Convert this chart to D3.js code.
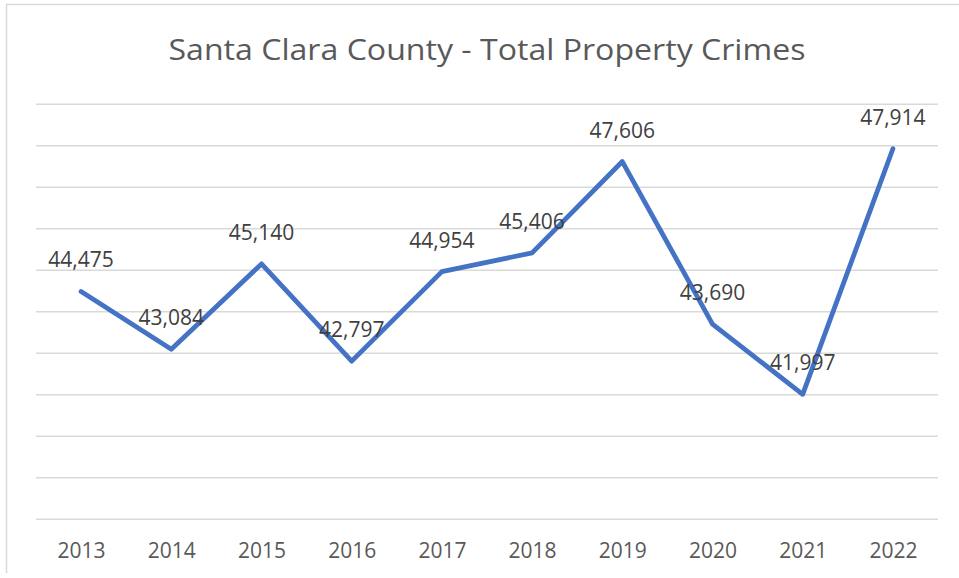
<!DOCTYPE html>
<html>
<head>
<meta charset="utf-8">
<script src="https://cdn.jsdelivr.net/npm/d3@7"></script>
<style>
  html, body { margin: 0; padding: 0; background: #fff; }
  svg { display: block; }
</style>
</head>
<body>
<svg id="chart" width="959" height="578"></svg>
<script>
const years = ["2013","2014","2015","2016","2017","2018","2019","2020","2021","2022"];
const crimes = [44475, 43084, 45140, 42797, 44954, 45406, 47606, 43690, 41997, 47914];
const yTicks = [39000, 40000, 41000, 42000, 43000, 44000, 45000, 46000, 47000, 48000, 49000];
const title = "Santa Clara County - Total Property Crimes";

const svg = d3.select("#chart");
const font = "'Open Sans', 'DejaVu Sans', sans-serif";

// frame
svg.append("line").attr("x1", 6.5).attr("x2", 6.5).attr("y1", 4).attr("y2", 573)
  .attr("stroke", "#d9d9d9").attr("stroke-width", 1.5);
svg.append("line").attr("x1", 6).attr("x2", 959).attr("y1", 4.5).attr("y2", 4.5)
  .attr("stroke", "#d9d9d9").attr("stroke-width", 1.5);

const x = d3.scalePoint().domain(years).range([36, 938]).padding(0.5);
const y = d3.scaleLinear().domain([39000, 49000]).range([518.7, 103.7]);

// gridlines
const grid = d3.axisLeft(y).tickValues(yTicks).tickSize(-(938 - 36)).tickFormat("");
const gg = svg.append("g").attr("transform", "translate(36,0)").call(grid);
gg.select(".domain").remove();
gg.selectAll(".tick line").attr("stroke", "#d9d9d9").attr("stroke-width", 1.5);

// x axis labels
const xa = d3.axisBottom(x).tickSize(0).tickPadding(0);
const xg = svg.append("g").attr("transform", "translate(0,518.7)").call(xa);
xg.select(".domain").remove();
xg.selectAll(".tick text")
  .attr("y", 39).attr("dy", null)
  .attr("font-family", font).attr("font-size", 21).attr("fill", "#595959");

// line
const line = d3.line().x((d, i) => x(years[i])).y(d => y(d));
svg.append("path").datum(crimes)
  .attr("d", line)
  .attr("fill", "none")
  .attr("stroke", "#4472C4")
  .attr("stroke-width", 4.8)
  .attr("stroke-linejoin", "round")
  .attr("stroke-linecap", "round");

// data labels
svg.append("g").selectAll("text").data(crimes).join("text")
  .attr("x", (d, i) => x(years[i]))
  .attr("y", d => y(d) - 24)
  .attr("text-anchor", "middle")
  .attr("font-family", font).attr("font-size", 21).attr("fill", "#404040")
  .text(d => d3.format(",")(d));

// title
svg.append("text")
  .attr("x", 487).attr("y", 60)
  .attr("text-anchor", "middle")
  .attr("font-family", font).attr("font-size", 30).attr("fill", "#595959")
  .attr("textLength", 637).attr("lengthAdjust", "spacingAndGlyphs")
  .text(title);
</script>
</body>
</html>
